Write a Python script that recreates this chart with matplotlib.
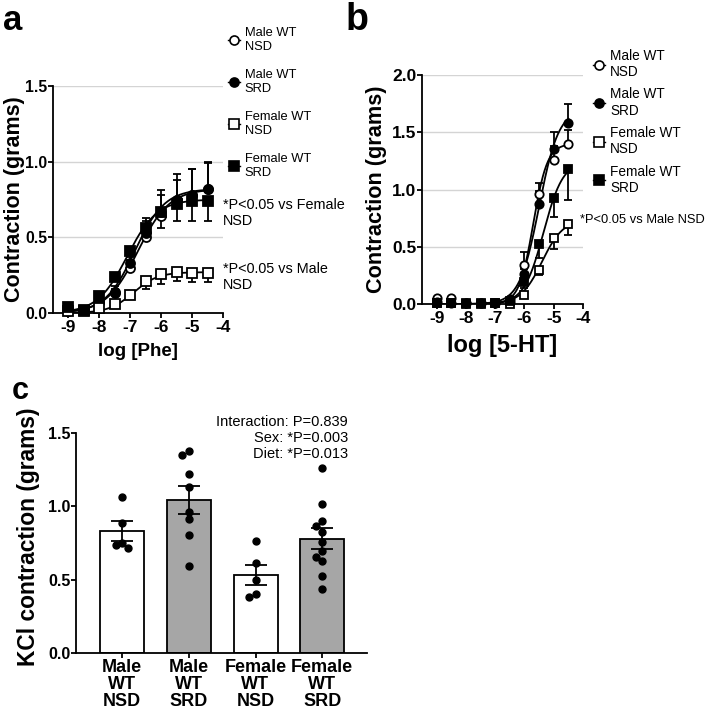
import numpy as np
import matplotlib
matplotlib.use("Agg")
import matplotlib.pyplot as plt
from matplotlib.lines import Line2D

plt.rcParams['font.family'] = ['Liberation Sans', 'DejaVu Sans']

# ---------------- data ----------------
log_conc = [-9, -8.5, -8, -7.5, -7, -6.5, -6, -5.5, -5, -4.5]
series_labels = ['Male WT\nNSD', 'Male WT\nSRD', 'Female WT\nNSD', 'Female WT\nSRD']

# Panel a: phenylephrine
phe_male_nsd = [0.01, 0.02, 0.07, 0.14, 0.30, 0.50, 0.64, 0.75, 0.78, 0.82]
phe_male_srd = [0.01, 0.02, 0.07, 0.13, 0.33, 0.53, 0.67, 0.75, 0.78, 0.82]
phe_female_nsd = [0.01, 0.01, 0.03, 0.06, 0.12, 0.21, 0.26, 0.27, 0.265, 0.265]
phe_female_srd = [0.04, 0.02, 0.11, 0.24, 0.41, 0.56, 0.67, 0.72, 0.74, 0.74]
phe_err_male_nsd = [0.01, 0.01, 0.02, 0.04, 0.05, 0.13, 0.17, 0.17, 0.17, 0.18]
phe_err_male_srd = [0.01, 0.01, 0.02, 0.03, 0.05, 0.08, 0.11, 0.13, 0.17, 0.17]
phe_err_female_nsd = [0.01, 0.01, 0.01, 0.02, 0.03, 0.05, 0.07, 0.06, 0.06, 0.06]
phe_err_female_srd = [0.01, 0.01, 0.02, 0.03, 0.04, 0.07, 0.11, 0.11, 0.13, 0.13]
# sigmoid fit parameters: bottom, top, logEC50, hill
phe_fit_male_nsd = [0.0, 0.82, -6.75, 0.85]
phe_fit_male_srd = [0.0, 0.82, -6.85, 0.90]
phe_fit_female_nsd = [0.0, 0.27, -6.90, 1.10]
phe_fit_female_srd = [0.0, 0.75, -7.10, 0.90]

# Panel b: 5-HT
ht_male_nsd = [0.05, 0.05, 0.01, 0.01, 0.01, 0.02, 0.34, 0.96, 1.26, 1.40]
ht_male_srd = [0.02, 0.01, 0.01, 0.01, 0.01, 0.04, 0.26, 0.87, 1.35, 1.58]
ht_female_nsd = [0.01, 0.01, 0.0, 0.0, 0.01, 0.0, 0.08, 0.30, 0.58, 0.70]
ht_female_srd = [0.01, 0.01, 0.01, 0.01, 0.01, 0.03, 0.19, 0.52, 0.93, 1.18]
ht_err_male_nsd = [0.01, 0.01, 0.01, 0.01, 0.01, 0.01, 0.11, 0.10, 0.12, 0.12]
ht_err_male_srd = [0.01, 0.01, 0.01, 0.01, 0.01, 0.02, 0.05, 0.12, 0.15, 0.17]
ht_err_female_nsd = [0.0, 0.0, 0.0, 0.0, 0.0, 0.0, 0.02, 0.05, 0.10, 0.10]
ht_err_female_srd = [0.01, 0.01, 0.01, 0.01, 0.01, 0.01, 0.05, 0.12, 0.17, 0.27]
ht_fit_male_nsd = [0.0, 1.40, -5.70, 1.8]
ht_fit_male_srd = [0.0, 1.70, -5.50, 1.3]
ht_fit_female_nsd = [0.0, 0.74, -5.40, 1.2]
ht_fit_female_srd = [0.0, 1.25, -5.35, 1.3]

# Panel c: KCl individual points
kcl_groups = ['Male\nWT\nNSD', 'Male\nWT\nSRD', 'Female\nWT\nNSD', 'Female\nWT\nSRD']
kcl_male_nsd = [1.066, 0.889, 0.752, 0.734, 0.714]
kcl_male_srd = [1.379, 1.35, 1.22, 1.134, 0.963, 0.911, 0.804, 0.595]
kcl_female_nsd = [0.766, 0.611, 0.498, 0.40, 0.384]
kcl_female_srd = [1.263, 1.016, 0.90, 0.868, 0.827, 0.755, 0.697, 0.657, 0.627, 0.525, 0.434]

# ---------------- helpers ----------------
def sigmoid(x, p):
    bottom, top, ec50, hill = p
    return bottom + (top - bottom) / (1 + 10 ** ((ec50 - x) * hill))

styles = [dict(marker='o', mfc='white'), dict(marker='o', mfc='black'),
          dict(marker='s', mfc='white'), dict(marker='s', mfc='black')]
err_up = [True, True, False, False]

BOLD = 'bold'
fig = plt.figure(figsize=(7.09, 7.13), dpi=100)

def style_axes(ax, grid_vals, labelsize=12.5, ylabelsize=None):
    for s in ['top', 'right']:
        ax.spines[s].set_visible(False)
    for s in ['left', 'bottom']:
        ax.spines[s].set_linewidth(1.3)
    ax.tick_params(axis='both', width=1.3, length=3.5, labelsize=labelsize, pad=1.5)
    ax.tick_params(axis='y', pad=0.5, labelsize=ylabelsize or labelsize)
    for lab in ax.get_xticklabels() + ax.get_yticklabels():
        lab.set_fontweight(BOLD)
    for g in grid_vals:
        ax.axhline(g, color='#d4d4d4', lw=1.0, zorder=0)

def curve_panel(ax, means, errs, fits, ylim, yticks, xlabel, xlabel_size, ylabel_size,
                ylabel_x, ms, ytick_size):
    xs = np.linspace(-9, -4.5, 300)
    for i in range(4):
        ax.plot(xs, sigmoid(xs, fits[i]), color='black', lw=1.3, zorder=2)
    for i in range(4):
        e = np.array(errs[i])
        z = np.zeros_like(e)
        yerr = [z, e] if err_up[i] else [e, z]
        ax.errorbar(log_conc, means[i], yerr=yerr, fmt='none', ecolor='black',
                    elinewidth=1.3, capsize=3.2, capthick=1.3, zorder=3, clip_on=False)
    for i in range(4):
        ax.plot(log_conc, means[i], ls='none', marker=styles[i]['marker'],
                mfc=styles[i]['mfc'], mec='black', mew=1.3, ms=ms, zorder=4, clip_on=False)
    ax.set_xlim(-9.5, -4)
    ax.set_ylim(*ylim)
    ax.set_xticks([-9, -8, -7, -6, -5, -4])
    ax.set_xticklabels(['-9', '-8', '-7', '-6', '-5', '-4'])
    ax.set_yticks(yticks)
    ax.set_yticklabels([f'{v:.1f}' for v in yticks])
    ax.set_xlabel(xlabel, fontsize=xlabel_size, fontweight=BOLD, labelpad=6)
    ax.set_ylabel('Contraction (grams)', fontsize=ylabel_size, fontweight=BOLD)
    ax.yaxis.set_label_coords(ylabel_x, 0.5)
    style_axes(ax, yticks[1:], ylabelsize=ytick_size)

def legend(ax, anchor, spacing, fs):
    handles = [Line2D([], [], color='black', lw=1.0, marker=s['marker'], mfc=s['mfc'],
                      mec='black', mew=1.2, ms=6.5) for s in styles]
    ax.legend(handles, series_labels, loc='upper left', bbox_to_anchor=anchor,
              frameon=False, fontsize=fs, handlelength=0.9, handletextpad=0.4,
              labelspacing=spacing, borderaxespad=0, borderpad=0)

# ---------------- panel a ----------------
axa = fig.add_axes([53/709, 1-313/713, 170/709, 227/713])
curve_panel(axa,
            [phe_male_nsd, phe_male_srd, phe_female_nsd, phe_female_srd],
            [phe_err_male_nsd, phe_err_male_srd, phe_err_female_nsd, phe_err_female_srd],
            [phe_fit_male_nsd, phe_fit_male_srd, phe_fit_female_nsd, phe_fit_female_srd],
            (0, 1.5), [0.0, 0.5, 1.0, 1.5], 'log [Phe]', 13.5, 15.5, -0.163, 6.5, 11.3)
legend(axa, (1.03, 1.26), 1.25, 9.3)
axa.text(1.0, 0.44, '*P<0.05 vs Female\nNSD', transform=axa.transAxes, fontsize=10.4,
         va='center', ha='left', linespacing=1.2)
axa.text(1.0, 0.16, '*P<0.05 vs Male\nNSD', transform=axa.transAxes, fontsize=10.4,
         va='center', ha='left', linespacing=1.2)

# ---------------- panel b ----------------
axb = fig.add_axes([422/709, 1-304/713, 161/709, 229/713])
curve_panel(axb,
            [ht_male_nsd, ht_male_srd, ht_female_nsd, ht_female_srd],
            [ht_err_male_nsd, ht_err_male_srd, ht_err_female_nsd, ht_err_female_srd],
            [ht_fit_male_nsd, ht_fit_male_srd, ht_fit_female_nsd, ht_fit_female_srd],
            (0, 2.0), [0.0, 0.5, 1.0, 1.5, 2.0], 'log [5-HT]', 17, 15.6, -0.22, 6.0, 12.5)
legend(axb, (1.06, 1.115), 0.62, 9.8)
axb.text(0.98, 0.367, '*P<0.05 vs Male NSD', transform=axb.transAxes, fontsize=9.3,
         va='center', ha='left')

# ---------------- panel c ----------------
axc = fig.add_axes([76/709, 1-653/713, 291/709, 220/713])
kcl_data = [kcl_male_nsd, kcl_male_srd, kcl_female_nsd, kcl_female_srd]
bar_colors = ['white', '#a6a6a6', 'white', '#a6a6a6']
xpos = np.arange(4)
means = [np.mean(d) for d in kcl_data]
sems = [np.std(d, ddof=1) / np.sqrt(len(d)) for d in kcl_data]
axc.bar(xpos, means, width=0.66, color=bar_colors, edgecolor='black', linewidth=1.3, zorder=1)

# simple swarm placement of dots (pixel scale ~66.7 px per category, 146.7 px per gram)
px_x, px_y, diam, step = 66.7, 146.7, 6.6, 0.095
for i, d in enumerate(kcl_data):
    placed = []
    for v in d:
        for off in [0, -step, step, -2 * step, 2 * step]:
            ok = all(np.hypot((off - po) * px_x, (v - pv) * px_y) >= diam for po, pv in placed)
            if ok:
                placed.append((off, v))
                break
    axc.plot([xpos[i] + p[0] for p in placed], [p[1] for p in placed], ls='none',
             marker='o', color='black', ms=5, zorder=4)
axc.errorbar(xpos, means, yerr=sems, fmt='none', ecolor='black', elinewidth=1.3,
             capsize=8, capthick=1.3, zorder=3)
axc.set_xlim(-0.69, 3.67)
axc.set_ylim(0, 1.5)
axc.set_xticks(xpos)
axc.set_xticklabels(kcl_groups)
axc.set_yticks([0.0, 0.5, 1.0, 1.5])
axc.set_yticklabels(['0.0', '0.5', '1.0', '1.5'])
axc.set_ylabel('KCl contraction (grams)', fontsize=16.4, fontweight=BOLD)
axc.yaxis.set_label_coords(-0.123, 0.53)
style_axes(axc, [], labelsize=11.5)
axc.tick_params(axis='x', pad=0.5)
for lab in axc.get_xticklabels():
    lab.set_fontsize(13)
    lab.set_linespacing(1.0)
axc.text(0.935, 1.08, 'Interaction: P=0.839\nSex: *P=0.003\nDiet: *P=0.013',
         transform=axc.transAxes, ha='right', va='top', fontsize=10.5, linespacing=1.15)

# panel letters
fig.text(0.004, 0.995, 'a', fontsize=25, fontweight=BOLD, va='top', ha='left')
fig.text(0.488, 0.997, 'b', fontsize=27, fontweight=BOLD, va='top', ha='left')
fig.text(0.017, 0.472, 'c', fontsize=22, fontweight=BOLD, va='top', ha='left')

fig.savefig('out.png', dpi=100)
